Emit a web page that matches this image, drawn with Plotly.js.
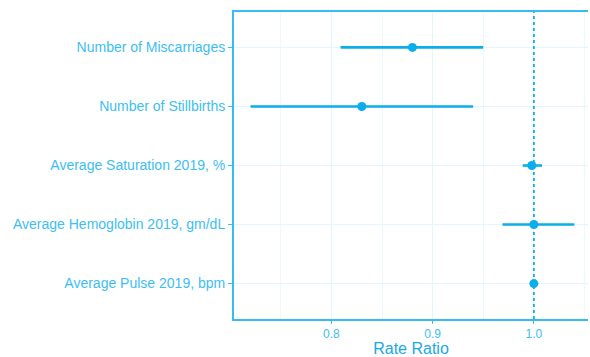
<!DOCTYPE html>
<html>
<head>
<meta charset="utf-8">
<script src="https://cdn.plot.ly/plotly-3.0.1.min.js"></script>
<style>html,body{margin:0;padding:0;background:#fff;}#chart{width:590px;height:357px;}</style>
</head>
<body>
<div id="chart"></div>
<script>
var categories = ["Number of Miscarriages", "Number of Stillbirths", "Average Saturation 2019, %", "Average Hemoglobin 2019, gm/dL", "Average Pulse 2019, bpm"];
var estimates = [0.88, 0.83, 0.998, 1.0, 1.0];
var lowerCI = [0.809, 0.72, 0.989, 0.969, 0.997];
var upperCI = [0.95, 0.94, 1.008, 1.04, 1.003];
var xTickVals = [0.8, 0.9, 1.0];
var xTickText = ["0.8", "0.9", "1.0"];
var refValue = 1.0;

var lineColor = "#0AAEEA";
var textColor = "#3DBEF2";

var trace = {
  type: "scatter",
  mode: "markers",
  x: estimates,
  y: categories,
  marker: {color: lineColor, size: 9},
  error_x: {
    type: "data",
    symmetric: false,
    array: upperCI.map(function(u, i){ return u - estimates[i]; }),
    arrayminus: lowerCI.map(function(l, i){ return estimates[i] - l; }),
    color: lineColor,
    thickness: 2.6,
    width: 0
  },
  hoverinfo: "x+y"
};

var layout = {
  width: 590,
  height: 357,
  margin: {l: 234, r: 2, t: 12, b: 38},
  paper_bgcolor: "#ffffff",
  plot_bgcolor: "#ffffff",
  showlegend: false,
  font: {family: "Liberation Sans, Arial, sans-serif", color: textColor},
  xaxis: {
    range: [0.7037, 1.0535],
    tickvals: xTickVals,
    ticktext: xTickText,
    ticks: "outside",
    ticklen: 3,
    tickcolor: textColor,
    tickfont: {size: 12, color: textColor},
    showgrid: true,
    gridcolor: "#E3F5FD",
    gridwidth: 1,
    minor: {tickvals: [0.75, 0.85, 0.95, 1.05], showgrid: true, gridcolor: "#EDF8FE", gridwidth: 1, ticks: ""},
    zeroline: false,
    showline: true,
    mirror: true,
    linecolor: "#35BDF3",
    linewidth: 2,
    title: {text: "Rate Ratio", font: {size: 16, color: "#1AA8E6"}, standoff: 1}
  },
  yaxis: {
    type: "category",
    categoryorder: "array",
    categoryarray: categories,
    range: [4.6, -0.6],
    ticks: "outside",
    ticklen: 4,
    tickcolor: textColor,
    tickfont: {size: 14, color: textColor},
    showgrid: true,
    gridcolor: "#E3F5FD",
    gridwidth: 1,
    zeroline: false,
    showline: true,
    linecolor: "#35BDF3",
    linewidth: 2
  },
  shapes: [{
    type: "line",
    xref: "x",
    yref: "paper",
    x0: refValue,
    x1: refValue,
    y0: 0,
    y1: 1,
    line: {color: lineColor, width: 1.8, dash: "dot"}
  }]
};

Plotly.newPlot("chart", [trace], layout, {displayModeBar: false, staticPlot: true});
</script>
</body>
</html>
